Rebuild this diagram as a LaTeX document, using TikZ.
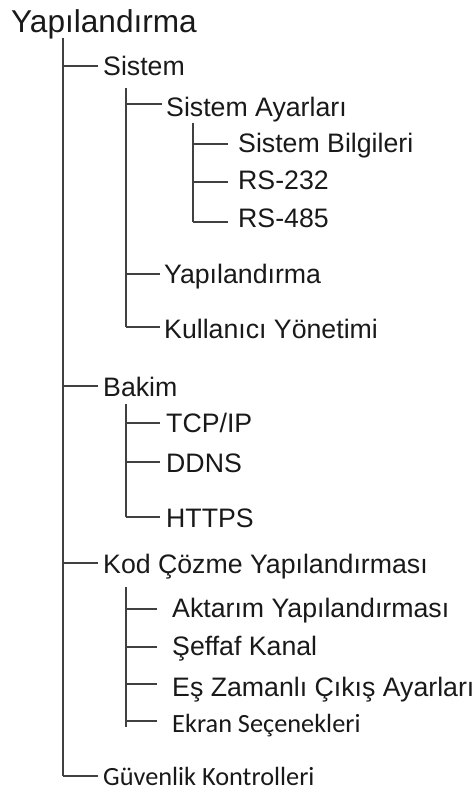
\documentclass[tikz,border=0pt]{standalone}
\usepackage{fontspec}
\setmainfont{Liberation Sans}
\newfontfamily\calib{Carlito}
\begin{document}
\begin{tikzpicture}[x=1pt,y=-1pt,
  conn/.style={draw=black!75,line width=1.4pt},
  lbl/.style={anchor=base west,inner sep=0pt,text=black!90,font=\fontsize{26.7}{30}\selectfont},
  lblc/.style={lbl,font=\calib\fontsize{26.3}{30}\selectfont}]
\path[use as bounding box,fill=white] (0,0) rectangle (473,794);
% root
\node[lbl,font=\fontsize{31.6}{34}\selectfont] (root) at (11,33) {Yapılandırma};
% level 1 labels
\node[lbl] (sis) at (103,76) {Sistem};
\node[lbl] (bak) at (103,396) {Bakim};
\node[lbl] (kod) at (103,573) {Kod Çözme Yapılandırması};
\node[lblc] (guv) at (103,785) {Güvenlik Kontrolleri};
% Sistem children
\node[lbl] (say) at (166,117) {Sistem Ayarları};
\node[lbl] (yap) at (164,283) {Yapılandırma};
\node[lbl] (kul) at (164,338) {Kullanıcı Yönetimi};
% Sistem Ayarlari children
\node[lbl] (sbi) at (238,153) {Sistem Bilgileri};
\node[lbl] (rs2) at (238,190) {RS-232};
\node[lbl] (rs4) at (238,227) {RS-485};
% Bakim children
\node[lbl] (tcp) at (166,432) {TCP/IP};
\node[lbl] (ddn) at (166,472) {DDNS};
\node[lbl] (htt) at (166,527) {HTTPS};
% Kod children
\node[lbl] (akt) at (172,617) {Aktarım Yapılandırması};
\node[lbl] (sef) at (172,655) {Şeffaf Kanal};
\node[lbl] (esz) at (172,696) {Eş Zamanlı Çıkış Ayarları};
\node[lblc] (ekr) at (172,732) {Ekran Seçenekleri};
% trunk coordinates
\coordinate (t0) at (63,38);
\coordinate (kSis) at (63,66);
\coordinate (kBak) at (63,386);
\coordinate (kKod) at (63,563);
\coordinate (kGuv) at (63,776);
\coordinate (s0) at (126,88);
\coordinate (kSay) at (126,104);
\coordinate (kYap) at (126,274);
\coordinate (kKul) at (126,327);
\coordinate (a0) at (193,123);
\coordinate (kSbi) at (193,144);
\coordinate (kRs2) at (193,182);
\coordinate (kRs4) at (193,222);
\coordinate (b0) at (126,404);
\coordinate (kTcp) at (126,423);
\coordinate (kDdn) at (126,462);
\coordinate (kHtt) at (126,517);
\coordinate (c0) at (126,587);
\coordinate (kAkt) at (126,609);
\coordinate (kSef) at (126,647);
\coordinate (kEsz) at (126,684);
\coordinate (kEkr) at (126,721);
\coordinate (cEnd) at (126,727);
% verticals
\draw[conn] (t0) -- (kGuv);
\draw[conn] (s0) -- (kKul);
\draw[conn] (a0) -- (kRs4);
\draw[conn] (b0) -- (kHtt);
\draw[conn] (c0) -- (cEnd);
% horizontals
\draw[conn] (kSis) -- ([xshift=-5pt]kSis -| sis.west);
\draw[conn] (kBak) -- ([xshift=-5pt]kBak -| bak.west);
\draw[conn] (kKod) -- ([xshift=-5pt]kKod -| kod.west);
\draw[conn] (kGuv) -- ([xshift=-5pt]kGuv -| guv.west);
\draw[conn] (kSay) -- ([xshift=-4pt]kSay -| say.west);
\draw[conn] (kYap) -- ([xshift=-4pt]kYap -| yap.west);
\draw[conn] (kKul) -- ([xshift=-4pt]kKul -| kul.west);
\draw[conn] (kSbi) -- ([xshift=-10pt]kSbi -| sbi.west);
\draw[conn] (kRs2) -- ([xshift=-10pt]kRs2 -| rs2.west);
\draw[conn] (kRs4) -- ([xshift=-10pt]kRs4 -| rs4.west);
\draw[conn] (kTcp) -- ([xshift=-6pt]kTcp -| tcp.west);
\draw[conn] (kDdn) -- ([xshift=-6pt]kDdn -| ddn.west);
\draw[conn] (kHtt) -- ([xshift=-6pt]kHtt -| htt.west);
\draw[conn] (kAkt) -- ([xshift=-15pt]kAkt -| akt.west);
\draw[conn] (kSef) -- ([xshift=-15pt]kSef -| sef.west);
\draw[conn] (kEsz) -- ([xshift=-15pt]kEsz -| esz.west);
\draw[conn] (kEkr) -- ([xshift=-15pt]kEkr -| ekr.west);
\end{tikzpicture}
\end{document}
